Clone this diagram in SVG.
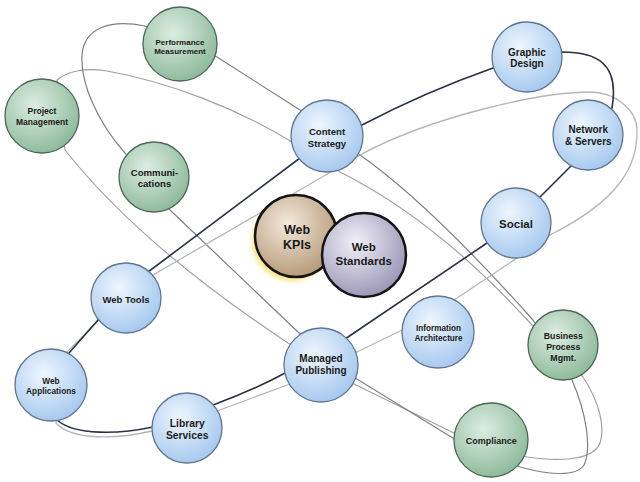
<svg xmlns="http://www.w3.org/2000/svg" width="640" height="482" viewBox="0 0 640 482">
<defs>
<radialGradient id="gBlue" cx="0.4" cy="0.35" r="0.68">
<stop offset="0" stop-color="#eef6ff"/><stop offset="1" stop-color="#a5c8ee"/>
</radialGradient>
<radialGradient id="gGreen" cx="0.4" cy="0.35" r="0.68">
<stop offset="0" stop-color="#dcede1"/><stop offset="1" stop-color="#8db99a"/>
</radialGradient>
<radialGradient id="gKpi" cx="0.4" cy="0.35" r="0.7">
<stop offset="0" stop-color="#f3e9dc"/><stop offset="1" stop-color="#b39673"/>
</radialGradient>
<radialGradient id="gStd" cx="0.4" cy="0.35" r="0.7">
<stop offset="0" stop-color="#f2f1f8"/><stop offset="1" stop-color="#9792b3"/>
</radialGradient>
<filter id="glow" x="-30%" y="-30%" width="160%" height="160%">
<feGaussianBlur stdDeviation="2.5"/>
</filter>
<style>
.c{fill:none;stroke-linejoin:round}
.d{stroke:#2a3144;stroke-width:1.6}
.l{stroke:#b3b5b8;stroke-width:1.3}
.a{stroke:#7c8086;stroke-width:1.2}
.b{stroke:#9ea1a5;stroke-width:1.2}
.nb{fill:url(#gBlue);stroke:#62758c;stroke-width:1.3}
.ng{fill:url(#gGreen);stroke:#4e6656;stroke-width:1.3}
.t{font-family:"Liberation Sans",Arial,sans-serif;font-weight:bold;fill:#1a1a1a;text-anchor:middle}
</style>
</defs>
<rect width="640" height="482" fill="#ffffff"/>
<g id="connectors">
<path class="c b" d="M 57,80 C 66,72 85,67 107,71 C 170,82 240,110 292,142 L 340,172 Q 437,220.5 532,325 L 583,377 C 597,398 606,425 600,443 C 594,460 560,462 527,457 L 456,434 L 352,383 L 288,343 Q 140,245 65,150 Z"/>
<path class="c a" d="M 145,26 C 110,19 84,28 82,55 C 80,85 100,125 125,153 L 170,210 L 298,332 L 352,376 L 456,440 L 520,467 C 545,474 576,478 584,465 C 592,448 586,412 572,380 L 533,320 Q 428.6,203 360,155 L 300,110 L 217,57 Z"/>
<path class="c l" d="M 153,275 L 360,155 C 430,117 540,92 590,92 C 615,92 637,110 637,130 C 638,165 620,200 550,235 L 517,258 L 457,298 L 402,330 L 357,352 L 290,384 L 217,411 L 152,431 C 118,439 72,441 56,423 L 67,352 L 97,322 Z"/>
<path class="c d" d="M 148,272 L 300,158 L 362,125 Q 425,92 493,68 L 562,52 C 595,52 620,62 612,108 L 572,165 L 540,197 L 487,243 L 348,337 L 287,372 Q 256,389 213,405 L 153,427 C 120,434 75,436 57,420 L 69,353 L 98,320 Z"/>
</g>
<g id="performance-measurement">
<circle class="ng" cx="180" cy="44" r="37"/>
<text class="t" x="180" y="44.5" font-size="8">Performance</text>
<text class="t" x="180" y="53.5" font-size="8">Measurement</text>
</g>
<g id="project-management">
<circle class="ng" cx="42" cy="116" r="37"/>
<text class="t" x="42" y="114" font-size="8.5">Project</text>
<text class="t" x="42" y="124.5" font-size="8.5">Management</text>
</g>
<g id="communications">
<circle class="ng" cx="154" cy="177" r="35"/>
<text class="t" x="154.5" y="176" font-size="9.6">Communi-</text>
<text class="t" x="154.5" y="186.5" font-size="9.6">cations</text>
</g>
<g id="content-strategy">
<circle class="nb" cx="327" cy="136" r="36"/>
<text class="t" x="327" y="135" font-size="9.6">Content</text>
<text class="t" x="327" y="147" font-size="9.6">Strategy</text>
</g>
<g id="graphic-design">
<circle class="nb" cx="527" cy="57" r="35"/>
<text class="t" x="527" y="55.5" font-size="10">Graphic</text>
<text class="t" x="527" y="67" font-size="10">Design</text>
</g>
<g id="network-servers">
<circle class="nb" cx="588" cy="135" r="35"/>
<text class="t" x="588.3" y="133" font-size="10">Network</text>
<text class="t" x="588.3" y="145.3" font-size="10">&amp; Servers</text>
</g>
<g id="social">
<circle class="nb" cx="516" cy="223" r="35"/>
<text class="t" x="516" y="228" font-size="11.5">Social</text>
</g>
<g id="web-tools">
<circle class="nb" cx="126" cy="298" r="35"/>
<text class="t" x="126" y="302.7" font-size="9.5">Web Tools</text>
</g>
<g id="web-applications">
<circle class="nb" cx="51" cy="385" r="36"/>
<text class="t" x="51" y="383.7" font-size="8.3">Web</text>
<text class="t" x="51" y="394" font-size="8.3">Applications</text>
</g>
<g id="library-services">
<circle class="nb" cx="187" cy="428" r="35"/>
<text class="t" x="187.2" y="427" font-size="10.3">Library</text>
<text class="t" x="187.2" y="438.7" font-size="10.3">Services</text>
</g>
<g id="managed-publishing">
<circle class="nb" cx="321" cy="365" r="37"/>
<text class="t" x="321" y="362" font-size="10">Managed</text>
<text class="t" x="321" y="373.5" font-size="10">Publishing</text>
</g>
<g id="information-architecture">
<circle class="nb" cx="438" cy="332" r="36"/>
<text class="t" x="438.5" y="331.3" font-size="8.2">Information</text>
<text class="t" x="438.5" y="341.3" font-size="8.2">Architecture</text>
</g>
<g id="business-process-mgmt">
<circle class="ng" cx="563" cy="345" r="35"/>
<text class="t" x="563.3" y="339.2" font-size="8.8">Business</text>
<text class="t" x="563.3" y="350" font-size="8.8">Process</text>
<text class="t" x="563.3" y="361" font-size="8.8">Mgmt.</text>
</g>
<g id="compliance">
<circle class="ng" cx="491" cy="440" r="37"/>
<text class="t" x="491.3" y="444.3" font-size="9">Compliance</text>
</g>
<g id="web-kpis">
<circle cx="292" cy="241" r="40" fill="#f4da5c" opacity="0.75" filter="url(#glow)"/>
<circle cx="296" cy="236" r="41" fill="url(#gKpi)" stroke="#141414" stroke-width="2.5"/>
<text class="t" x="297" y="233.8" font-size="12.5">Web</text>
<text class="t" x="297" y="248.5" font-size="12.5">KPIs</text>
</g>
<g id="web-standards">
<circle cx="364" cy="255" r="42" fill="url(#gStd)" stroke="#141414" stroke-width="2.5"/>
<text class="t" x="363.7" y="250.8" font-size="11.5">Web</text>
<text class="t" x="363.7" y="264.8" font-size="11.5">Standards</text>
</g>
</svg>
